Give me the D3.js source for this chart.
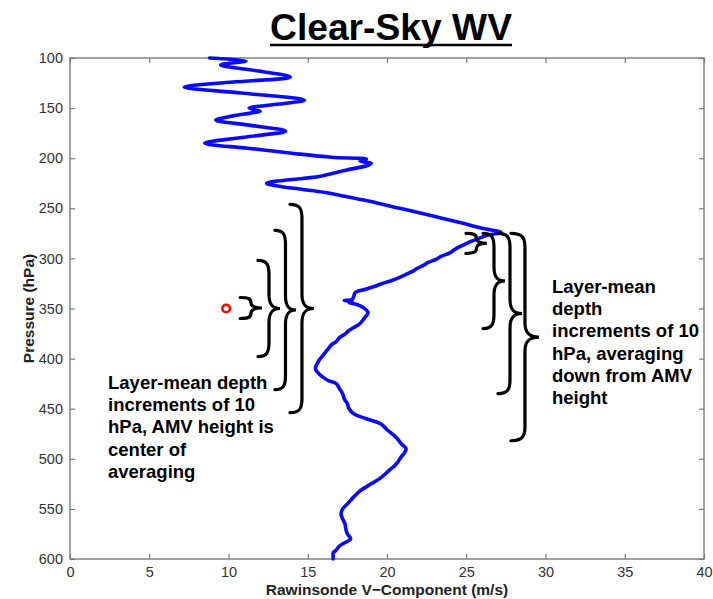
<!DOCTYPE html>
<html>
<head>
<meta charset="utf-8">
<script src="https://cdn.jsdelivr.net/npm/d3@7"></script>
<style>
  html, body { margin: 0; padding: 0; background: #fff; }
  svg { display: block; }
  text { font-family: "Liberation Sans", Arial, Helvetica, sans-serif; }
</style>
</head>
<body>
<svg id="chart" width="713" height="599"></svg>
<script>
// Rawinsonde V-component profile (m/s) against pressure (hPa)
const pressure = [
  100, 103, 107, 113, 119, 124, 129, 135, 142, 146, 150, 153, 155, 158, 162,
  167, 173, 179, 185, 190, 195, 199, 201, 203, 205, 207, 212, 218, 225, 228,
  231, 234, 237, 243, 250, 257, 265, 270, 274, 277, 280, 283, 286, 289, 292,
  295, 298, 301, 304, 307, 310, 313, 316, 319, 322, 325, 328, 331, 334, 338,
  341, 342, 343, 344, 346, 349, 354, 359, 365, 369, 372, 376, 379, 383, 386,
  390, 394, 398, 402, 405, 408, 411, 415, 419, 422, 425, 430, 435, 440, 445,
  450, 455, 460, 465, 471, 479, 485, 490, 494, 498, 505, 512, 519, 525, 532,
  538, 545, 550, 555, 560, 565, 570, 575, 580, 584, 587, 591, 594, 597, 600
];
const vWind = [
  8.8, 11.1, 9.5, 11.9, 13.9, 10.3, 7.2, 10.8, 14.8, 13.2, 11.3, 12.0, 11.4, 10.2, 9.2,
  11.3, 13.6, 11.0, 8.5, 11.2, 14.0, 16.5, 18.7, 18.3, 19.0, 18.8, 17.4, 15.8, 12.4, 13.2,
  14.6, 16.0, 17.0, 18.9, 20.8, 22.7, 24.8, 26.0, 27.2, 26.3, 25.8, 25.3, 24.9, 24.5, 24.2,
  23.9, 23.4, 23.1, 22.6, 22.3, 21.9, 21.6, 21.2, 20.8, 20.3, 19.7, 19.2, 18.6, 18.0, 17.9,
  17.8, 17.3, 17.8, 17.6, 18.1, 18.5, 18.8, 18.6, 18.3, 17.9, 17.6, 17.3, 17.0, 16.8, 16.5,
  16.3, 16.1, 15.9, 15.7, 15.6, 15.5, 15.5, 15.7, 16.0, 16.3, 16.8, 17.0, 17.2, 17.3, 17.5,
  17.6, 17.9, 18.7, 19.6, 20.0, 20.6, 20.9, 21.2, 21.1, 20.9, 20.6, 20.1, 19.6, 19.0, 18.3,
  17.9, 17.5, 17.2, 17.1, 17.2, 17.35, 17.4, 17.5, 17.7, 17.3, 17.0, 16.8, 16.6, 16.6, 16.6
];

// Axis ticks
const xTicks = [0, 5, 10, 15, 20, 25, 30, 35, 40];
const yTicks = [100, 150, 200, 250, 300, 350, 400, 450, 500, 550, 600];

// AMV marker (m/s, hPa)
const amvV = [9.85];
const amvP = [350];

// Averaging-layer braces: hook end and tip (m/s), top and bottom (hPa)
const braceV0 = [10.73, 11.86, 12.93, 13.88, 24.98, 26.06, 27.0, 27.82];
const braceVt = [12.11, 13.25, 14.26, 15.39, 26.3, 27.44, 28.52, 29.59];
const braceP0 = [339, 302, 272, 246, 275, 275, 275, 275];
const braceP1 = [360, 398, 431, 454, 295, 370, 435, 482];

const leftNote = ["Layer-mean depth", "increments of 10", "hPa, AMV height is", "center of", "averaging"];
const rightNote = ["Layer-mean", "depth", "increments of 10", "hPa, averaging", "down from AMV", "height"];

const svg = d3.select("#chart");
const x = d3.scaleLinear().domain([0, 40]).range([70, 704]);
const y = d3.scaleLinear().domain([100, 600]).range([58, 559]);

// Title
svg.append("text")
  .attr("x", 391).attr("y", 40)
  .attr("text-anchor", "middle")
  .attr("font-size", 37).attr("font-weight", "bold")
  .attr("font-family", "'Liberation Sans Narrow', 'Arial Narrow', 'Liberation Sans', sans-serif")
  .attr("fill", "#000")
  .attr("textLength", 242).attr("lengthAdjust", "spacingAndGlyphs")
  .text("Clear-Sky WV");
svg.append("line")
  .attr("x1", 270).attr("x2", 512).attr("y1", 45).attr("y2", 45)
  .attr("stroke", "#000").attr("stroke-width", 2.4);

// Axes (MATLAB style: inward ticks on all four sides)
const axisColor = "#7a7a7a";
function styleAxis(g) {
  g.select(".domain").remove();
  g.selectAll(".tick line").attr("stroke", axisColor).attr("stroke-width", 1.2);
  g.selectAll(".tick text").attr("fill", "#333").attr("font-size", 14.5)
    .attr("font-family", "Liberation Sans, Arial, sans-serif");
}
svg.append("g").attr("transform", `translate(0,${y(600)})`)
  .call(d3.axisBottom(x).tickValues(xTicks).tickSizeInner(-5).tickSizeOuter(0).tickPadding(8))
  .call(styleAxis);
svg.append("g").attr("transform", `translate(0,${y(100)})`)
  .call(d3.axisTop(x).tickValues(xTicks).tickSizeInner(-5).tickSizeOuter(0).tickFormat(""))
  .call(styleAxis);
svg.append("g").attr("transform", `translate(${x(0)},0)`)
  .call(d3.axisLeft(y).tickValues(yTicks).tickSizeInner(-5).tickSizeOuter(0).tickPadding(7))
  .call(styleAxis);
svg.append("g").attr("transform", `translate(${x(40)},0)`)
  .call(d3.axisRight(y).tickValues(yTicks).tickSizeInner(-5).tickSizeOuter(0).tickFormat(""))
  .call(styleAxis);
svg.append("rect")
  .attr("x", x(0)).attr("y", y(100))
  .attr("width", x(40) - x(0)).attr("height", y(600) - y(100))
  .attr("fill", "none").attr("stroke", axisColor).attr("stroke-width", 1.4);

// Axis titles
svg.append("text")
  .attr("x", (x(0) + x(40)) / 2).attr("y", 595)
  .attr("text-anchor", "middle").attr("font-size", 15.5).attr("font-weight", "bold")
  .attr("fill", "#222")
  .text("Rawinsonde V\u2212Component (m/s)");
svg.append("text")
  .attr("transform", `translate(34,${(y(100) + y(600)) / 2}) rotate(-90)`)
  .attr("text-anchor", "middle").attr("font-size", 15.5).attr("font-weight", "bold")
  .attr("fill", "#222")
  .text("Pressure (hPa)");

// Wind profile
const profile = pressure.map((p, i) => ({ p, v: vWind[i] }));
svg.append("path")
  .datum(profile)
  .attr("fill", "none")
  .attr("stroke", "#0a0aff")
  .attr("stroke-width", 3.6)
  .attr("stroke-linejoin", "round")
  .attr("stroke-linecap", "round")
  .attr("d", d3.line().x(d => x(d.v)).y(d => y(d.p)).curve(d3.curveCatmullRom.alpha(0.5)));

// Curly braces marking the averaging layers
function bracePath(x0, xt, y0, y1) {
  const xs = x0 + (xt - x0) * 0.5;
  const ym = (y0 + y1) / 2;
  const ry = Math.min(14, (y1 - y0) / 4);
  const rx = xs - x0;
  const tx = xt - xs;
  return `M${x0},${y0}` +
    `C${x0 + rx * 0.8},${y0} ${xs},${y0 + ry * 0.3} ${xs},${y0 + ry}` +
    `L${xs},${ym - ry}` +
    `C${xs},${ym - ry * 0.3} ${xs + tx * 0.3},${ym} ${xt},${ym}` +
    `C${xs + tx * 0.3},${ym} ${xs},${ym + ry * 0.3} ${xs},${ym + ry}` +
    `L${xs},${y1 - ry}` +
    `C${xs},${y1 - ry * 0.3} ${x0 + rx * 0.8},${y1} ${x0},${y1}`;
}
svg.append("g").selectAll("path")
  .data(braceV0.map((v0, i) => ({ v0, vt: braceVt[i], p0: braceP0[i], p1: braceP1[i] })))
  .join("path")
  .attr("fill", "none").attr("stroke", "#000").attr("stroke-width", 3.2)
  .attr("stroke-linecap", "round")
  .attr("d", d => bracePath(x(d.v0), x(d.vt), y(d.p0), y(d.p1)));

// AMV height marker
svg.append("g").selectAll("circle")
  .data(amvV.map((v, i) => ({ v, p: amvP[i] })))
  .join("circle")
  .attr("cx", d => x(d.v)).attr("cy", d => y(d.p)).attr("r", 3.8)
  .attr("fill", "#fff").attr("stroke", "#ff0000").attr("stroke-width", 2.6);

// Notes
function note(lines, x0, y0) {
  const t = svg.append("text").attr("font-size", 18.5).attr("font-weight", "bold").attr("fill", "#000");
  lines.forEach((s, i) => t.append("tspan").attr("x", x0).attr("y", y0 + i * 22.2).text(s));
}
note(leftNote, 108, 389);
note(rightNote, 552, 293);
</script>
</body>
</html>
